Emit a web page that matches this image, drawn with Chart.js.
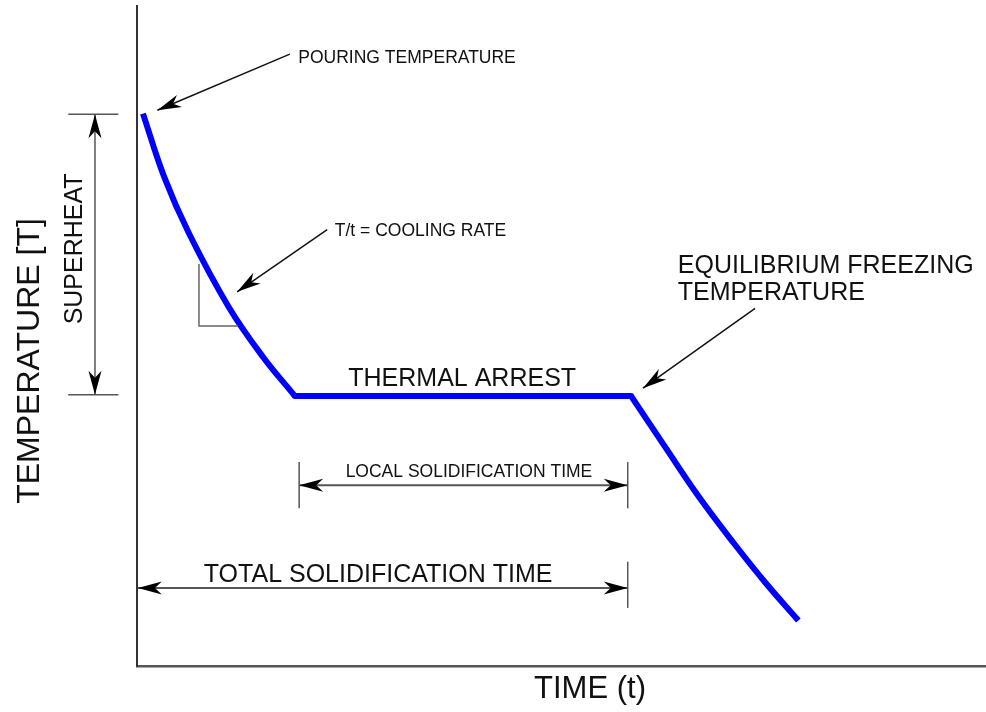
<!DOCTYPE html>
<html>
<head>
<meta charset="utf-8">
<script src="https://cdn.jsdelivr.net/npm/chart.js@4"></script>
<style>
  html, body { margin: 0; padding: 0; background: #fff; }
  #wrap { width: 986px; height: 712px; }
</style>
</head>
<body>
<div id="wrap"><canvas id="chart" width="986" height="712"></canvas></div>
<script>
// cooling curve, arbitrary units (time 0-100, temperature 0-100)
// liquid cooling from pouring temperature
const liquidTime = [0.7, 3.2, 6.1, 10.8, 14.8, 18.6];
const liquidTemp = [83.7, 74.1, 65.6, 54.4, 46.9, 40.9];
// thermal arrest at the freezing temperature
const arrestTime = [18.6, 58.2];
const arrestTemp = [40.9, 40.9];
// solid cooling
const solidTime = [58.2, 62.3, 66.2, 70.3, 74.1, 77.9];
const solidTemp = [40.9, 33.0, 25.6, 18.6, 12.5, 6.9];

const xTitle = "TIME (t)";
const yTitle = "TEMPERATURE [T]";

const FONT = "'Liberation Sans', Arial, sans-serif";

function toPoints(ts, vs) {
  return ts.map((t, i) => ({ x: t, y: vs[i] }));
}

// annotation layer: arrows, dimension lines and labels, all in data units
const annotate = {
  id: "annotate",
  afterDraw(chart) {
    const c = chart.ctx;
    const xs = chart.scales.x, ys = chart.scales.y;
    const X = (t) => xs.getPixelForValue(t);
    const Y = (v) => ys.getPixelForValue(v);

    function head(x1, y1, x2, y2) {
      // filled barbed arrowhead at (x2, y2)
      const a = Math.atan2(y2 - y1, x2 - x1);
      const len = 24, w = 6.5, back = 17;
      c.save();
      c.translate(x2, y2);
      c.rotate(a);
      c.fillStyle = "#000";
      c.beginPath();
      c.moveTo(0, 0);
      c.lineTo(-len, -w);
      c.lineTo(-back, 0);
      c.lineTo(-len, w);
      c.closePath();
      c.fill();
      c.restore();
    }
    function line(x1, y1, x2, y2, color, width) {
      c.strokeStyle = color;
      c.lineWidth = width;
      c.beginPath();
      c.moveTo(x1, y1);
      c.lineTo(x2, y2);
      c.stroke();
    }
    function leader(t1, v1, t2, v2) {
      const x1 = X(t1), y1 = Y(v1), x2 = X(t2), y2 = Y(v2);
      line(x1, y1, x2, y2, "#111", 1.5);
      head(x1, y1, x2, y2);
    }
    function dimH(t1, t2, v) {
      const y = Y(v);
      line(X(t1), y, X(t2), y, "#555", 2);
      head(X(t2), y, X(t1), y);
      head(X(t1), y, X(t2), y);
    }
    function text(str, t, v, size, align) {
      c.font = size + "px " + FONT;
      c.fillStyle = "#111";
      c.textAlign = align;
      c.textBaseline = "alphabetic";
      c.fillText(str, X(t), Y(v));
    }

    c.save();
    c.lineCap = "butt";

    // superheat dimension
    line(X(-8.1), Y(83.6), X(-2.2), Y(83.6), "#555", 1.5);
    line(X(-8.1), Y(41.1), X(-2.2), Y(41.1), "#555", 1.5);
    line(X(-4.95), Y(83.6), X(-4.95), Y(41.1), "#555", 1.5);
    head(X(-4.95), Y(60), X(-4.95), Y(83.6));
    head(X(-4.95), Y(60), X(-4.95), Y(41.1));
    c.save();
    c.translate(X(-7.3), Y(63.2));
    c.rotate(-Math.PI / 2);
    c.font = "25px " + FONT;
    c.fillStyle = "#111";
    c.textAlign = "center";
    c.textBaseline = "middle";
    c.fillText("SUPERHEAT", 0, 0);
    c.restore();

    // slope triangle
    c.strokeStyle = "#666";
    c.lineWidth = 1.5;
    c.beginPath();
    c.moveTo(X(7.3), Y(60.9));
    c.lineTo(X(7.3), Y(51.5));
    c.lineTo(X(11.9), Y(51.5));
    c.stroke();

    // leaders
    leader(18.0, 92.7, 2.4, 84.2);
    leader(22.4, 66.1, 11.8, 56.7);
    leader(72.8, 54.2, 59.6, 42.1);

    // local solidification time
    line(X(19.1), Y(30.9), X(19.1), Y(23.9), "#555", 1.5);
    line(X(57.8), Y(30.9), X(57.8), Y(23.9), "#555", 1.5);
    dimH(19.1, 57.8, 27.4);

    // total solidification time
    line(X(57.8), Y(15.8), X(57.8), Y(8.8), "#555", 1.5);
    dimH(0.1, 57.8, 11.8);

    // labels
    text("POURING TEMPERATURE", 19.0, 91.4, 17.5, "left");
    text("T/t = COOLING RATE", 23.3, 65.1, 17.5, "left");
    text("THERMAL ARREST", 38.3, 42.4, 25, "center");
    text("EQUILIBRIUM FREEZING", 63.7, 59.5, 25, "left");
    text("TEMPERATURE", 63.7, 55.4, 25, "left");
    text("LOCAL SOLIDIFICATION TIME", 39.1, 28.6, 17.5, "center");
    text("TOTAL SOLIDIFICATION TIME", 28.4, 12.7, 25, "center");

    // axis titles
    c.font = "31px " + FONT;
    c.fillStyle = "#111";
    c.textAlign = "center";
    c.textBaseline = "alphabetic";
    c.fillText(xTitle, 590, 698);
    c.save();
    c.translate(39, 361);
    c.rotate(-Math.PI / 2);
    c.font = "32px " + FONT;
    c.fillText(yTitle, 0, 0);
    c.restore();

    c.restore();
  }
};

const curveStyle = {
  borderColor: "#0000ff",
  borderWidth: 6,
  borderJoinStyle: "miter",
  pointRadius: 0,
  fill: false,
};

new Chart(document.getElementById("chart"), {
  type: "line",
  data: {
    datasets: [
      { ...curveStyle, data: toPoints(liquidTime, liquidTemp), tension: 0.4 },
      { ...curveStyle, data: toPoints(arrestTime, arrestTemp), tension: 0, borderCapStyle: "round" },
      { ...curveStyle, data: toPoints(solidTime, solidTemp), tension: 0.4 },
    ],
  },
  options: {
    responsive: false,
    animation: false,
    layout: { padding: { left: 137, top: 6, right: 0, bottom: 46 } },
    plugins: { legend: { display: false }, tooltip: { enabled: false } },
    scales: {
      x: {
        type: "linear", min: 0, max: 100,
        ticks: { display: false },
        grid: { display: false, drawTicks: false },
        border: { display: true, color: "#555", width: 2.5 },
      },
      y: {
        type: "linear", min: 0, max: 100,
        ticks: { display: false },
        grid: { display: false, drawTicks: false },
        border: { display: true, color: "#333", width: 2 },
      },
    },
  },
  plugins: [annotate],
});
</script>
</body>
</html>
